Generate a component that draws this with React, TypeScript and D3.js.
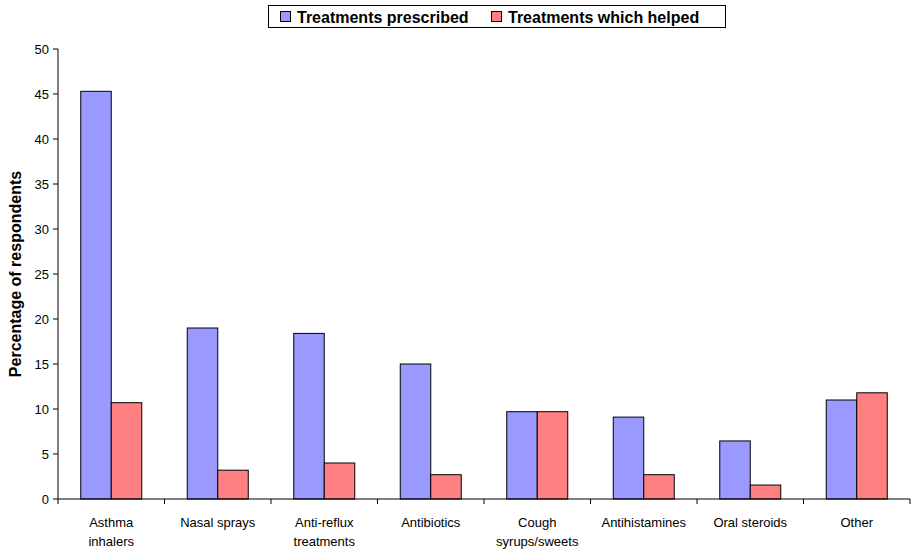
import React, { useEffect, useRef } from "react";
import * as d3 from "d3";

const categories = [
  ["Asthma", "inhalers"],
  ["Nasal sprays"],
  ["Anti-reflux", "treatments"],
  ["Antibiotics"],
  ["Cough", "syrups/sweets"],
  ["Antihistamines"],
  ["Oral steroids"],
  ["Other"],
];
const prescribed = [45.3, 19, 18.4, 15, 9.7, 9.1, 6.45, 11];
const helped = [10.7, 3.2, 4, 2.7, 9.7, 2.7, 1.55, 11.8];
const yTicks = [0, 5, 10, 15, 20, 25, 30, 35, 40, 45, 50];

const App: React.FC = () => {
  const ref = useRef<SVGSVGElement | null>(null);

  useEffect(() => {
    if (!ref.current) return;
    const svg = d3.select(ref.current);
    svg.selectAll("*").remove();
    const left = 58, right = 910, top = 49, bottom = 499;
    const font = "Arial, 'Liberation Sans', sans-serif";

    const x = d3.scaleBand<number>().domain(d3.range(categories.length)).range([left, right]);
    const y = d3.scaleLinear().domain([0, 50]).range([bottom, top]);
    const bw = 30.5;

    const g = svg.append("g");
    categories.forEach((_, i) => {
      const cx = x(i)! + x.bandwidth() / 2;
      g.append("rect").attr("x", cx - bw).attr("y", y(prescribed[i])).attr("width", bw)
        .attr("height", y(0) - y(prescribed[i])).attr("fill", "#9999ff").attr("stroke", "#000").attr("stroke-width", 1);
      g.append("rect").attr("x", cx).attr("y", y(helped[i])).attr("width", bw)
        .attr("height", y(0) - y(helped[i])).attr("fill", "#ff8080").attr("stroke", "#000").attr("stroke-width", 1);
    });

    // axes
    svg.append("line").attr("x1", left).attr("x2", left).attr("y1", top).attr("y2", bottom).attr("stroke", "#000");
    svg.append("line").attr("x1", left).attr("x2", right).attr("y1", bottom).attr("y2", bottom).attr("stroke", "#000");
    yTicks.forEach((t) => {
      svg.append("line").attr("x1", left - 5).attr("x2", left).attr("y1", y(t)).attr("y2", y(t)).attr("stroke", "#000");
      svg.append("text").attr("x", left - 9).attr("y", y(t)).attr("dy", "0.35em").attr("text-anchor", "end")
        .style("font-family", font).style("font-size", "13px").text(t);
    });
    d3.range(categories.length + 1).forEach((i) => {
      const xx = left + i * x.bandwidth();
      svg.append("line").attr("x1", xx).attr("x2", xx).attr("y1", bottom).attr("y2", bottom + 5).attr("stroke", "#000");
    });
    categories.forEach((lines, i) => {
      const cx = x(i)! + x.bandwidth() / 2;
      lines.forEach((l, j) => {
        svg.append("text").attr("x", cx).attr("y", 527 + j * 19).attr("text-anchor", "middle")
          .style("font-family", font).style("font-size", "13px").text(l);
      });
    });

    svg.append("text").attr("transform", `translate(21,${(top + bottom) / 2}) rotate(-90)`)
      .attr("text-anchor", "middle").style("font-family", font).style("font-size", "16px")
      .style("font-weight", "bold").text("Percentage of respondents");

    // legend
    const lg = svg.append("g");
    lg.append("rect").attr("x", 268.5).attr("y", 5.5).attr("width", 457).attr("height", 22)
      .attr("fill", "#fff").attr("stroke", "#000");
    const items: [string, string, number][] = [
      ["Treatments prescribed", "#9999ff", 280],
      ["Treatments which helped", "#ff8080", 491],
    ];
    items.forEach(([label, c, lx]) => {
      lg.append("rect").attr("x", lx + 0.5).attr("y", 11.5).attr("width", 10).attr("height", 10)
        .attr("fill", c).attr("stroke", "#000");
      lg.append("text").attr("x", lx + 17).attr("y", 17).attr("dy", "0.35em")
        .style("font-family", font).style("font-size", "16px").style("font-weight", "bold").text(label);
    });
  }, []);

  return <svg ref={ref} width={919} height={557} style={{ position: "absolute", left: 0, top: 0 }} />;
};

export default App;
